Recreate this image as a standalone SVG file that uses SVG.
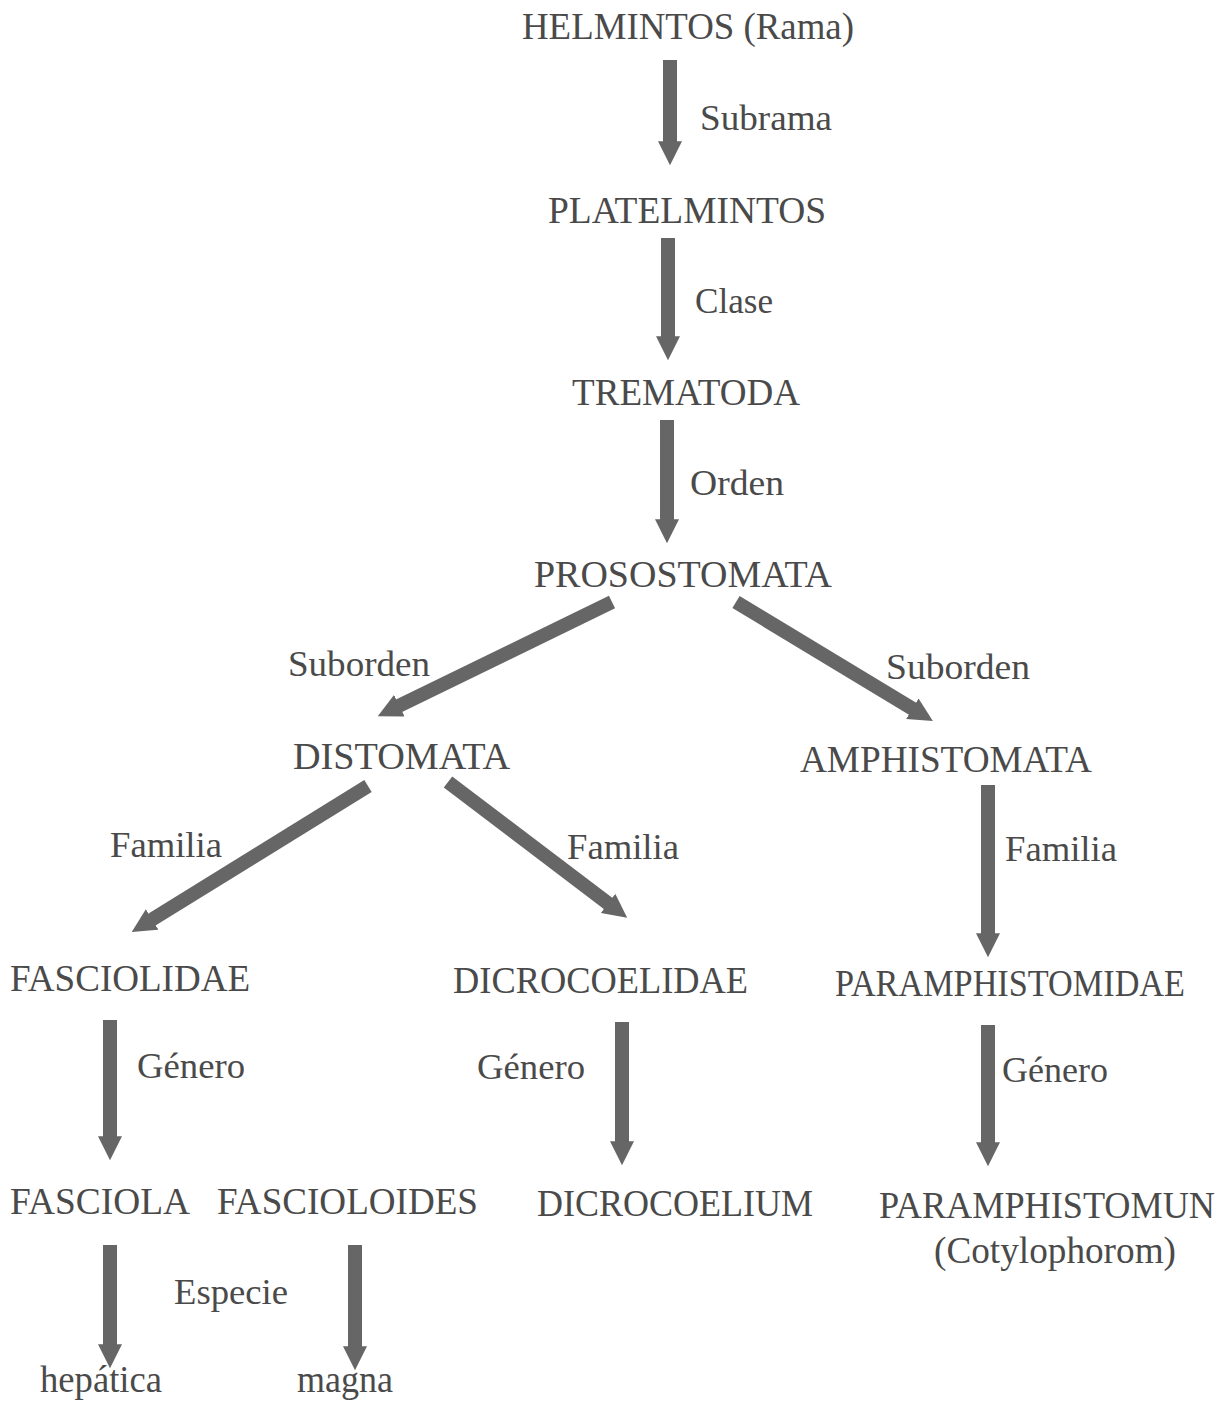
<svg xmlns="http://www.w3.org/2000/svg" width="1229" height="1406" viewBox="0 0 1229 1406">
<style>
text{font-family:"Liberation Serif","DejaVu Serif",serif;font-size:38px;fill:#4a4a4a;}
.lbl{font-size:36px;}
.arr{stroke:#666666;stroke-width:14;fill:none;marker-end:url(#ah);}
</style>
<defs>
<marker id="ah" viewBox="0 0 26 26" markerWidth="24" markerHeight="24" refX="4" refY="13" orient="auto" markerUnits="userSpaceOnUse">
<path d="M0,0 L26,13 L0,26 z" fill="#666666"/>
</marker>
</defs>
<rect width="1229" height="1406" fill="#ffffff"/>
<g id="connectors">
<line class="arr" x1="670" y1="60" x2="670" y2="145"/>
<line class="arr" x1="668" y1="238" x2="668" y2="340"/>
<line class="arr" x1="667" y1="420" x2="667" y2="523"/>
<line class="arr" x1="612" y1="602" x2="396" y2="707.3"/>
<line class="arr" x1="736" y1="602" x2="915.5" y2="710.6"/>
<line class="arr" x1="368" y1="786" x2="149" y2="921.4"/>
<line class="arr" x1="448" y1="782" x2="611" y2="905.6"/>
<line class="arr" x1="988" y1="785" x2="988" y2="937"/>
<line class="arr" x1="110" y1="1020" x2="110" y2="1140"/>
<line class="arr" x1="622" y1="1022" x2="622" y2="1145"/>
<line class="arr" x1="988" y1="1025" x2="988" y2="1146"/>
<line class="arr" x1="110" y1="1245" x2="110" y2="1348"/>
<line class="arr" x1="355" y1="1245" x2="355" y2="1350"/>
</g>
<g id="labels">
<text class="lbl" x="700" y="130" textLength="132" lengthAdjust="spacingAndGlyphs">Subrama</text>
<text class="lbl" x="695" y="313" textLength="78" lengthAdjust="spacingAndGlyphs">Clase</text>
<text class="lbl" x="690" y="495" textLength="94" lengthAdjust="spacingAndGlyphs">Orden</text>
<text class="lbl" x="288" y="676" textLength="142" lengthAdjust="spacingAndGlyphs">Suborden</text>
<text class="lbl" x="886" y="679" textLength="144" lengthAdjust="spacingAndGlyphs">Suborden</text>
<text class="lbl" x="110" y="857" textLength="112" lengthAdjust="spacingAndGlyphs">Familia</text>
<text class="lbl" x="567" y="859" textLength="112" lengthAdjust="spacingAndGlyphs">Familia</text>
<text class="lbl" x="1005" y="861" textLength="112" lengthAdjust="spacingAndGlyphs">Familia</text>
<text class="lbl" x="137" y="1078" textLength="108" lengthAdjust="spacingAndGlyphs">Género</text>
<text class="lbl" x="477" y="1079" textLength="108" lengthAdjust="spacingAndGlyphs">Género</text>
<text class="lbl" x="1002" y="1082" textLength="106" lengthAdjust="spacingAndGlyphs">Género</text>
<text class="lbl" x="174" y="1304" textLength="114" lengthAdjust="spacingAndGlyphs">Especie</text>
</g>
<g id="n-helmintos"><text x="522" y="39" textLength="332" lengthAdjust="spacingAndGlyphs">HELMINTOS (Rama)</text></g>
<g id="n-platelmintos"><text x="548" y="223" textLength="278" lengthAdjust="spacingAndGlyphs">PLATELMINTOS</text></g>
<g id="n-trematoda"><text x="572" y="405" textLength="228" lengthAdjust="spacingAndGlyphs">TREMATODA</text></g>
<g id="n-prosostomata"><text x="534" y="587" textLength="298" lengthAdjust="spacingAndGlyphs">PROSOSTOMATA</text></g>
<g id="n-distomata"><text x="293" y="769" textLength="217" lengthAdjust="spacingAndGlyphs">DISTOMATA</text></g>
<g id="n-amphistomata"><text x="800" y="772" textLength="292" lengthAdjust="spacingAndGlyphs">AMPHISTOMATA</text></g>
<g id="n-fasciolidae"><text x="10" y="991" textLength="240" lengthAdjust="spacingAndGlyphs">FASCIOLIDAE</text></g>
<g id="n-dicrocoelidae"><text x="453" y="993" textLength="295" lengthAdjust="spacingAndGlyphs">DICROCOELIDAE</text></g>
<g id="n-paramphistomidae"><text x="835" y="996" textLength="350" lengthAdjust="spacingAndGlyphs">PARAMPHISTOMIDAE</text></g>
<g id="n-fasciola"><text x="10" y="1214" textLength="180" lengthAdjust="spacingAndGlyphs">FASCIOLA</text></g>
<g id="n-fascioloides"><text x="217" y="1214" textLength="261" lengthAdjust="spacingAndGlyphs">FASCIOLOIDES</text></g>
<g id="n-dicrocoelium"><text x="537" y="1216" textLength="276" lengthAdjust="spacingAndGlyphs">DICROCOELIUM</text></g>
<g id="n-paramphistomun"><text x="879" y="1218" textLength="336" lengthAdjust="spacingAndGlyphs">PARAMPHISTOMUN</text><text x="934" y="1263" textLength="242" lengthAdjust="spacingAndGlyphs">(Cotylophorom)</text></g>
<g id="n-hepatica"><text x="40" y="1392" textLength="122" lengthAdjust="spacingAndGlyphs">hepática</text></g>
<g id="n-magna"><text x="297" y="1392" textLength="96" lengthAdjust="spacingAndGlyphs">magna</text></g>
</svg>
